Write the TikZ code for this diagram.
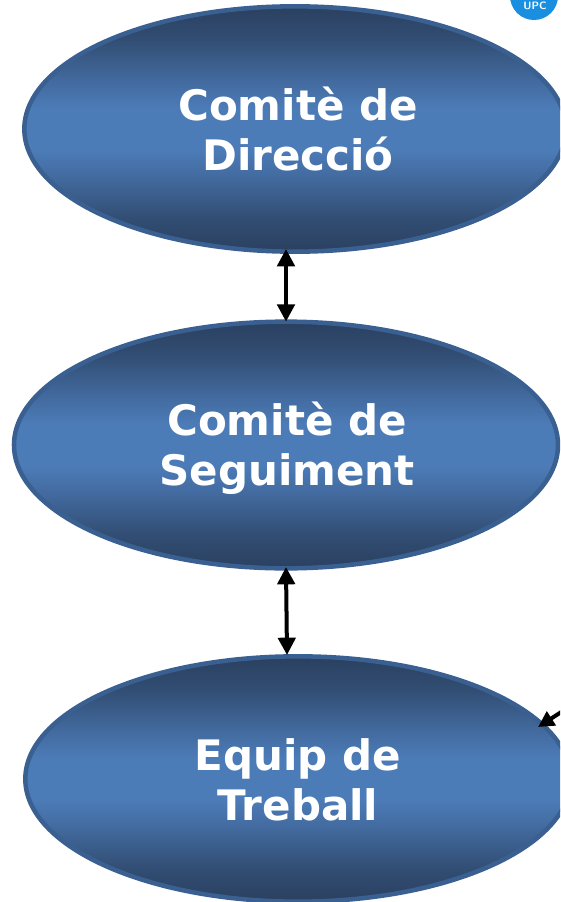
\documentclass[tikz,border=0pt]{standalone}
\usepackage{fontspec}
\setmainfont{DejaVu Sans}
\usetikzlibrary{shapes.geometric,arrows.meta}
\definecolor{edgeblue}{HTML}{3A6092}
\definecolor{logoblue}{HTML}{1A8FE0}
\definecolor{sA}{RGB}{42,64,96}
\definecolor{sB}{RGB}{50,78,116}
\definecolor{sC}{RGB}{66,106,158}
\definecolor{sD}{RGB}{76,124,184}
\pgfdeclareverticalshading{ovalshade}{100bp}{
  color(0bp)=(sA);
  color(25bp)=(sA);
  color(32bp)=(sB);
  color(40bp)=(sC);
  color(46bp)=(sD);
  color(54bp)=(sD);
  color(60bp)=(sC);
  color(68bp)=(sB);
  color(75bp)=(sA);
  color(100bp)=(sA)}
\tikzset{
  oval/.style={ellipse,draw=edgeblue,line width=3.4pt,inner sep=0pt,outer sep=0pt,
    shade,shading=ovalshade},
  ovaltext/.style={text=white,align=center,inner sep=0pt,font=\bfseries\fontsize{31.5}{38}\selectfont},
  link/.style={line width=3pt,draw=black,{Triangle[length=13pt,width=13pt]}-{Triangle[length=13pt,width=13pt]}},
  single/.style={line width=3pt,draw=black,-{Triangle[length=12pt,width=12pt]}}
}
\begin{document}
\begin{tikzpicture}[x=.75pt,y=-.75pt]
\useasboundingbox (0,0) rectangle (560,902);
\clip (0,0) rectangle (560,902);
\fill[logoblue] (534,-4) circle[radius=24];
\node[text=white,font=\bfseries\sffamily\fontsize{8}{9}\selectfont,inner sep=0pt] (logo) at (535,6) {UPC};
\node[oval,minimum width=406pt,minimum height=184pt,
  label={[ovaltext,xshift=2.25pt,yshift=0pt]center:Comitè de\\Direcció}] (a) at (295,129) {};
\node[oval,minimum width=408pt,minimum height=185pt,
  label={[ovaltext,xshift=.75pt,yshift=-2.5pt]center:Comitè de\\Seguiment}] (b) at (286,445) {};
\node[oval,minimum width=409pt,minimum height=184pt,
  label={[ovaltext,yshift=-.5pt]center:Equip de\\Treball}] (c) at (298,779) {};
\coordinate (ctop) at (287,655);
\coordinate (free) at (566,709);
\coordinate (ctip) at (538,727);
\draw[link,shorten <=-2pt] (a.south -| b.north) -- (b.north);
\draw[link,shorten <=-1pt] (b.south) -- (ctop);
\draw[single] (free) -- (ctip);
\end{tikzpicture}
\end{document}
